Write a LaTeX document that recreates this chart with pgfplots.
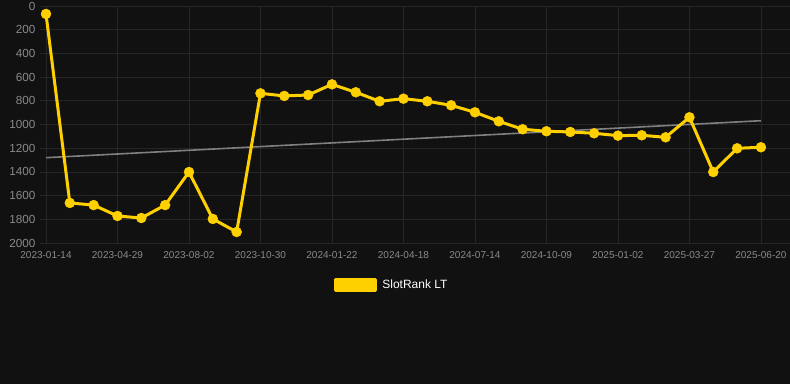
\documentclass[border=0pt]{standalone}
\usepackage{pgfplots}
\pgfplotsset{compat=1.18}
\usepackage{fontspec}
\setmainfont{Liberation Sans}
\definecolor{bg}{HTML}{111111}
\definecolor{gridc}{HTML}{262626}
\definecolor{gold}{HTML}{FFD000}
\definecolor{tickc}{HTML}{8A8A8A}
\definecolor{trendc}{HTML}{808080}
\begin{document}
\begin{tikzpicture}
\fill[bg] (0pt,0pt) rectangle (790pt,384pt);
\useasboundingbox (0pt,0pt) rectangle (790pt,384pt);
\begin{axis}[
  at={(40pt,141pt)}, anchor=south west,
  scale only axis, width=750pt, height=237pt,
  xmin=-0.2517, xmax=31.22,
  ymin=0, ymax=2000, y dir=reverse,
  axis line style={draw=none},
  major tick length=0pt,
  grid=major, grid style={gridc, line width=0.8pt},
  ytick={0,200,...,2000},
  xtick={0,3,...,30},
  xticklabels={2023-01-14,2023-04-29,2023-08-02,2023-10-30,2024-01-22,2024-04-18,2024-07-14,2024-10-09,2025-01-02,2025-03-27,2025-06-20},
  /pgf/number format/assume math mode=true,
  /pgf/number format/1000 sep={},
  xticklabel style={font=\fontsize{10}{12}\selectfont, text=tickc, yshift=-5pt},
  yticklabel style={font=\fontsize{11.7}{13}\selectfont, text=tickc, xshift=-1pt},
  legend style={at={(0.4693,-0.176)}, anchor=center, draw=none, fill=none,
    text=white, font=\fontsize{12}{14}\selectfont},
  legend image code/.code={\fill[gold, sharp corners] (0pt,-5.5pt) rectangle (40pt,5.5pt);},
]
\addplot[trendc, line width=1.6pt, forget plot] coordinates {(0,1280) (30,968)};
\addplot[gold, line width=3pt, line join=round, mark=*, mark size=5pt, mark options={solid, fill=gold, draw=gold, line width=0.4pt}] coordinates {
(0,67) (1,1662) (2,1680) (3,1772) (4,1789) (5,1680) (6,1401) (7,1797) (8,1907)
(9,737) (10,759) (11,751) (12,661) (13,728) (14,804) (15,782) (16,804) (17,838)
(18,897) (19,973) (20,1040) (21,1057) (22,1063) (23,1074) (24,1094) (25,1091)
(26,1108) (27,939) (28,1401) (29,1201) (30,1192)
};
\addlegendentry{\hspace{3pt}SlotRank LT}
\end{axis}
\end{tikzpicture}
\end{document}
